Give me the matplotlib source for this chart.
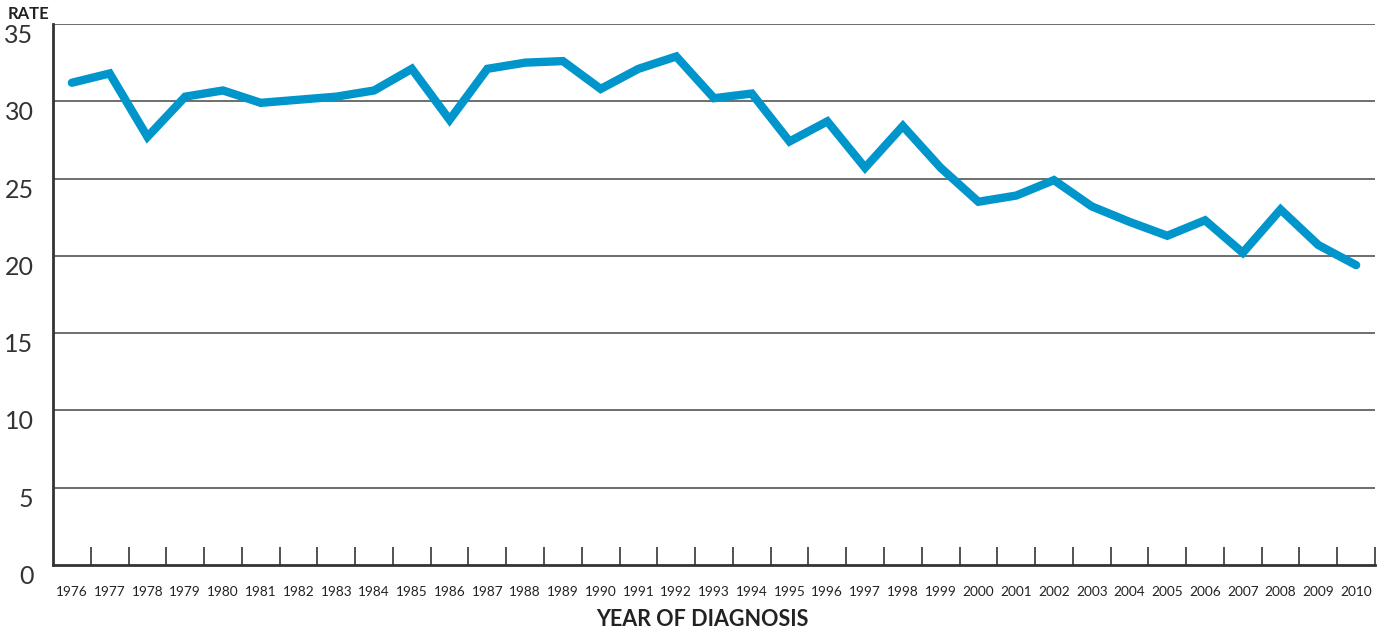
import matplotlib
matplotlib.use("Agg")
import matplotlib.pyplot as plt
import numpy as np

# dane
years = list(range(1976, 2011))
rate = [31.2, 31.8, 27.7, 30.3, 30.7, 29.9, 30.1, 30.3, 30.7, 32.1,
        28.8, 32.1, 32.5, 32.6, 30.8, 32.1, 32.9, 30.2, 30.5, 27.4,
        28.7, 25.7, 28.4, 25.7, 23.5, 23.9, 24.9, 23.2, 22.2, 21.3,
        22.3, 20.2, 23.0, 20.7, 19.4]
y_ticks = [0, 5, 10, 15, 20, 25, 30, 35]

plt.rcParams["font.family"] = ["Lato", "DejaVu Sans"]

fig = plt.figure(figsize=(13.8, 6.3), dpi=100)
ax = fig.add_axes([53 / 1380, 65 / 630, 1322 / 1380, 541 / 630])

x = np.arange(len(years))
ax.plot(x, rate, color="#0096cc", linewidth=6, solid_joinstyle="miter",
        solid_capstyle="round", zorder=3)

ax.set_xlim(-0.5, len(years) - 0.5)
ax.set_ylim(0, 35)

# siatka pozioma
for v in y_ticks[1:]:
    ax.axhline(v, color="#555555", linewidth=1.2, zorder=1)

ax.set_yticks(y_ticks)
ax.set_yticklabels([str(v) for v in y_ticks], fontsize=18, color="#333333")
for lab in ax.get_yticklabels():
    lab.set_verticalalignment("top")
ax.tick_params(axis="y", length=0, pad=14)

ax.set_xticks(x)
ax.set_xticklabels([str(y) for y in years], fontsize=9.8, color="#222222")
ax.tick_params(axis="x", which="major", length=0, pad=15)
ax.set_xticks(np.arange(0.5, len(years) - 0.4, 1), minor=True)
ax.tick_params(axis="x", which="minor", direction="in", length=13,
               width=1.3, color="#444444")

for s in ["top", "right"]:
    ax.spines[s].set_visible(False)
for s in ["left", "bottom"]:
    ax.spines[s].set_color("#333333")
    ax.spines[s].set_linewidth(2)

fig.text(8 / 1380, 1 - 14 / 630, "RATE", fontsize=12, fontweight="bold",
         color="#222222", va="center", ha="left")
fig.text(702 / 1380, 1 - 619 / 630, "YEAR OF DIAGNOSIS", fontsize=15.5,
         fontweight="bold", color="#222222", va="center", ha="center")

fig.savefig("out.png", dpi=100)
